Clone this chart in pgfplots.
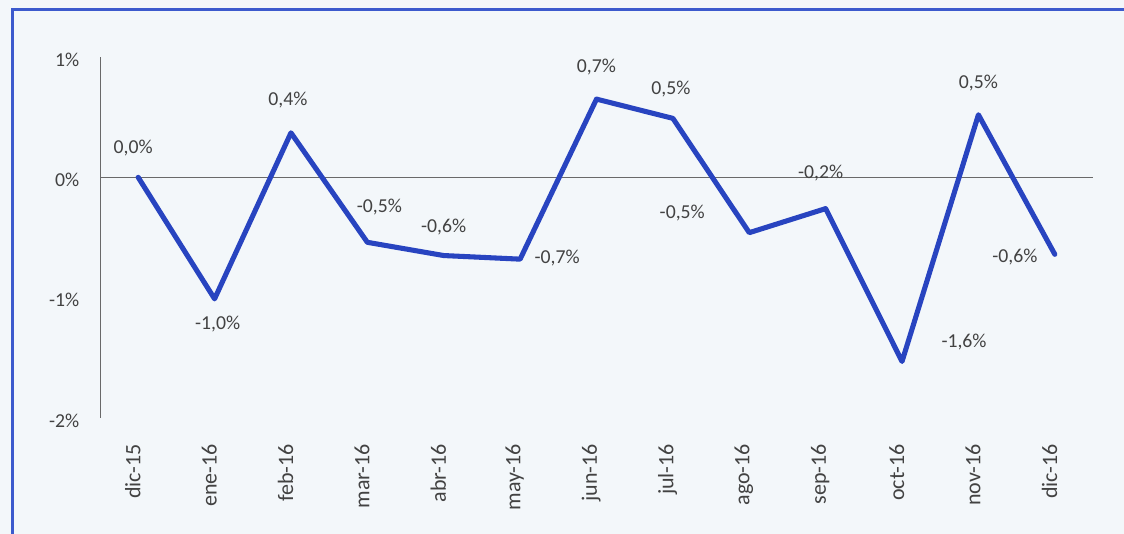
\documentclass[border=0pt]{standalone}
\usepackage{fontspec}
\setmainfont{Carlito}
\usepackage{pgfplots}
\pgfplotsset{compat=1.18}
\definecolor{bgc}{RGB}{243,247,250}
\definecolor{framec}{RGB}{60,90,205}
\definecolor{linec}{RGB}{40,68,192}
\definecolor{txtc}{RGB}{66,66,66}
\definecolor{axc}{RGB}{105,105,105}
\begin{document}
\begin{tikzpicture}
\fill[bgc] (0,0) rectangle (843pt,400.5pt);
\path[use as bounding box] (0,0) rectangle (843pt,400.5pt);
\draw[framec, line width=2pt] (9.4pt,-2pt) -- (9.4pt,393.4pt) -- (845pt,393.4pt);
\begin{axis}[
  at={(75pt,87pt)}, anchor=south west,
  scale only axis, width=744.75pt, height=270.75pt,
  xmin=-0.5, xmax=12.5, ymin=-2, ymax=1,
  axis lines*=left,
  x axis line style={draw=none},
  y axis line style={draw=axc, line width=0.7pt},
  tick style={draw=none},
  xtick={0,...,12},
  xticklabels={dic-15,ene-16,feb-16,mar-16,abr-16,may-16,jun-16,jul-16,ago-16,sep-16,oct-16,nov-16,dic-16},
  ytick={-2,-1,0,1},
  yticklabels={-2\%,-1\%,0\%,1\%},
  extra y ticks={0}, extra y tick labels={},
  extra y tick style={grid=major, grid style={draw=axc, line width=0.7pt}},
  xticklabel style={rotate=90, anchor=east, font=\fontsize{16.5}{18}\selectfont, text=txtc, xshift=-16pt, yshift=4pt},
  yticklabel style={font=\fontsize{14.8}{16}\selectfont, text=txtc, xshift=-12pt, yshift=-2pt},
  clip=false,
]
\addplot[linec, line width=3.8pt, line join=round, line cap=round,
  point meta=explicit symbolic,
  visualization depends on={\thisrow{dx} \as \dx},
  visualization depends on={\thisrow{dy} \as \dy},
  nodes near coords={\pgfplotspointmeta\%},
  nodes near coords style={anchor=center, font=\fontsize{14.8}{16}\selectfont, text=txtc, xshift=\dx*0.75pt, yshift=\dy*0.75pt},
] table[x=x, y=y, meta=lbl] {
x y lbl dx dy
0 0.00 0,0 -5 29
1 -1.01 -1,0 3 -25
2 0.37 0,4 -3 33
3 -0.54 -0,5 12 35
4 -0.65 -0,6 0 29
5 -0.68 -0,7 37 1
6 0.65 0,7 0 32
7 0.49 0,5 -2 29
8 -0.46 -0,5 -67 20
9 -0.26 -0,2 -5 36
10 -1.53 -1,6 62 19
11 0.52 0,5 0 32
12 -0.64 -0,6 -40 -3
};
\end{axis}
\end{tikzpicture}
\end{document}
